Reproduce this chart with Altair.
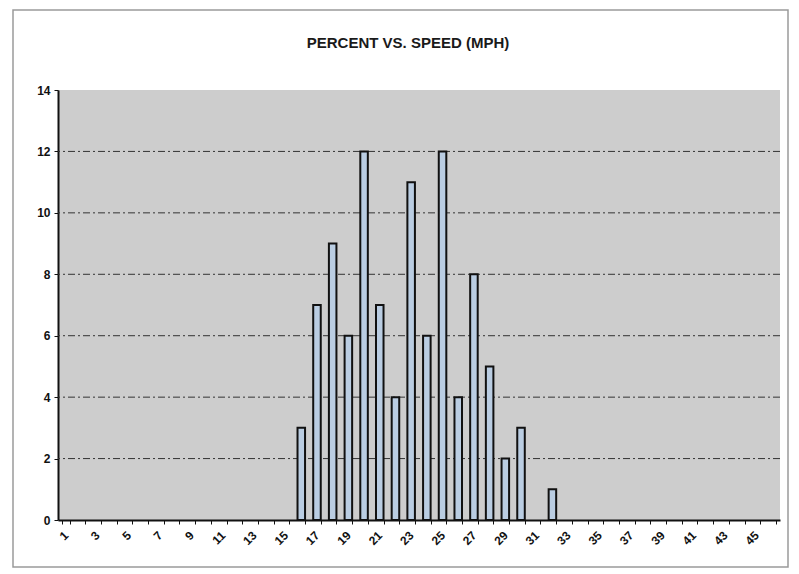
import altair as alt
import pandas as pd

# Data
speeds = list(range(1, 47))
bar_speeds = [16, 17, 18, 19, 20, 21, 22, 23, 24, 25, 26, 27, 28, 29, 30, 32]
bar_percent = [3, 7, 9, 6, 12, 7, 4, 11, 6, 12, 4, 8, 5, 2, 3, 1]
y_ticks = [0, 2, 4, 6, 8, 10, 12, 14]
grid_values = [2, 4, 6, 8, 10, 12]
title_text = "PERCENT VS. SPEED (MPH)"

pct = dict(zip(bar_speeds, bar_percent))
df = pd.DataFrame({"speed": speeds, "percent": [pct.get(s, 0) for s in speeds]})
grid_df = pd.DataFrame({"g": grid_values})
one_df = pd.DataFrame({"t": [title_text]})

W, H = 722, 430
FONT = "Liberation Sans"

x_scale = alt.Scale(domain=speeds, paddingInner=0.52, paddingOuter=0.26)
y_scale = alt.Scale(domain=[0, 14], nice=False)

bars = alt.Chart(df).transform_filter("datum.percent > 0").mark_bar(
    fill="#BACDE2", stroke="#111111", strokeWidth=2
).encode(
    x=alt.X("speed:O", scale=x_scale, sort=speeds,
            axis=alt.Axis(title=None, labelAngle=-45, labelAlign="right",
                          labelBaseline="middle",
                          labelExpr="datum.value % 2 == 1 ? datum.label : ''",
                          labelFont=FONT, labelFontWeight="bold", labelFontSize=12,
                          labelColor="#111111", labelPadding=9, labelOverlap=False,
                          tickBand="extent", tickSize=4, tickColor="#111111",
                          domainColor="#111111", domainWidth=2)),
    y=alt.Y("percent:Q", scale=y_scale,
            axis=alt.Axis(title=None, values=y_ticks, grid=False,
                          labelFont=FONT, labelFontWeight="bold", labelFontSize=12,
                          labelColor="#111111", labelPadding=4,
                          tickSize=4, tickColor="#111111",
                          domainColor="#111111", domainWidth=2)),
)

grid = alt.Chart(grid_df).mark_rule(
    color="#333333", strokeWidth=1, strokeDash=[7, 3, 2, 3]
).encode(y=alt.Y("g:Q", scale=y_scale))

border = alt.Chart(one_df).mark_rect(
    fill=None, stroke="#9a9a9a", strokeWidth=1.5, clip=False
).encode(
    x=alt.value(-45), x2=alt.value(730), y=alt.value(-80), y2=alt.value(477)
)

title = alt.Chart(one_df).mark_text(
    font=FONT, fontSize=15, fontWeight="bold", color="#1a1a1a",
    align="center", baseline="alphabetic"
).encode(x=alt.value(350), y=alt.value(-42), text="t:N")

chart = alt.layer(grid, bars, border, title).properties(
    width=W, height=H,
    autosize=alt.AutoSizeParams(type="none"),
    padding={"left": 50, "top": 82, "right": 10, "bottom": 52},
    view=alt.ViewBackground(fill="#CDCDCD", stroke=None),
).configure(background="white")

chart.save("out.html", embed_options={"renderer": "svg", "actions": False})
